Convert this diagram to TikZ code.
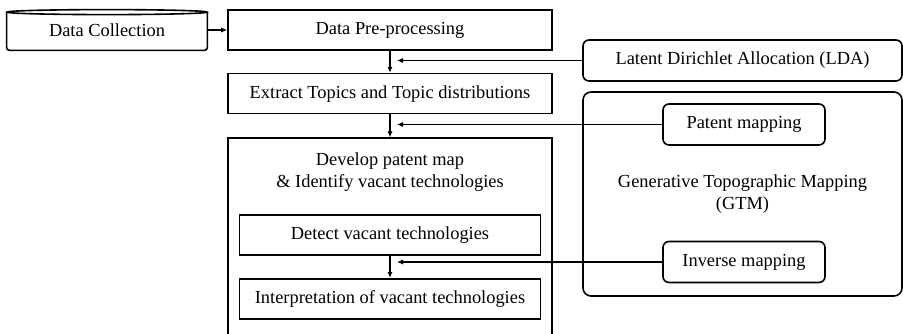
\documentclass[tikz,border=0pt]{standalone}
\usepackage{fontspec}
\setmainfont{Liberation Serif}
\usetikzlibrary{arrows.meta, positioning}
\tikzstyle{line} = [draw, -{Latex[length=3pt,width=2.6pt]}, line width=0.7pt]
\tikzstyle{block} = [rectangle, draw, line width=0.8pt, minimum width=162pt,
  minimum height=20pt, inner sep=0pt, text centered]
\tikzstyle{method} = [rectangle, draw, line width=0.8pt, rounded corners=3pt,
  minimum width=81pt, minimum height=20.5pt, inner sep=0pt, text centered]

\begin{document}
\begin{tikzpicture}[font=\fontsize{9.2}{11}\selectfont, node distance=11pt]
    \useasboundingbox (0,0) rectangle (451.5pt,-166.5pt);
    \clip (0,0) rectangle (451.5pt,-166.5pt);

    \node [rectangle, minimum width=100pt, minimum height=20pt, inner sep=0pt] (dcol) at (53.5pt,-15pt) {Data Collection};
    \draw [line width=0.8pt] ([yshift=-1.25pt]dcol.north) ellipse [x radius=50pt, y radius=1.25pt];
    \draw [line width=0.8pt, rounded corners=1.5pt] ([yshift=-1.25pt]dcol.north west) -- (dcol.south west)
      -- (dcol.south east) -- ([yshift=-1.25pt]dcol.north east);

    \node [block] (prep) at (195pt,-15pt) {Data Pre-processing};
    \node [block, below=11pt of prep] (topics) {Extract Topics and Topic distributions};
    \node [block, below=11.5pt of topics, minimum height=110pt] (develop) {};
    \node [align=center, below=4pt of develop.north] (devtitle) {Develop patent map\\\& Identify vacant technologies};
    \node [block, minimum width=150.5pt, below=38.5pt of develop.north] (detect) {Detect vacant technologies};
    \node [block, minimum width=150.5pt, below=11pt of detect] (interp) {Interpretation of vacant technologies};

    \node [method, minimum width=159.5pt] (lda) at (371.25pt,-30.25pt) {Latent Dirichlet Allocation (LDA)};
    \node [method, minimum width=159.5pt, minimum height=102pt, rounded corners=4pt, align=center] (gtm) at (371.25pt,-97pt)
      {Generative Topographic Mapping\\(GTM)};
    \node [method] (pmap) at (372pt,-62.25pt) {Patent mapping};
    \node [method] (inv) at (372pt,-131pt) {Inverse mapping};

    \coordinate (tip) at ([xshift=3.5pt]prep.south);

    \path [line] (dcol) -- (prep);
    \path [line] (prep) -- (topics);
    \path [line] (topics) -- (develop);
    \path [line] (detect) -- (interp);
    \path [line] (lda.west) -- (lda.west -| tip);
    \path [line] (pmap.west) -- (pmap.west -| tip);
    \path [line] (inv.west) -- (inv.west -| tip);
\end{tikzpicture}
\end{document}
